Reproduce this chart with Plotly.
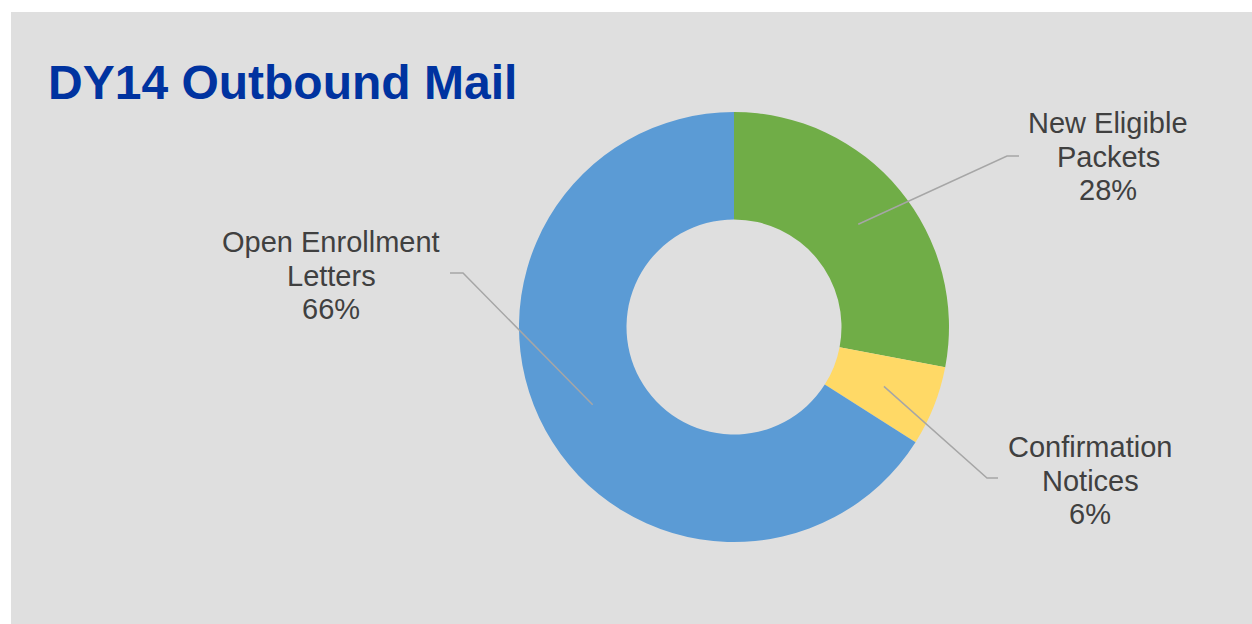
import math
import plotly.graph_objects as go

# Mail categories and their shares of DY14 outbound volume
categories = ["New Eligible Packets", "Confirmation Notices", "Open Enrollment Letters"]
values = [28, 6, 66]
label_lines = [["New Eligible", "Packets"], ["Confirmation", "Notices"], ["Open Enrollment", "Letters"]]
colors = ["#70AD47", "#FFD966", "#5B9BD5"]
title_text = "DY14 Outbound Mail"

W, H = 1252, 624
FONT = "Liberation Sans, Arial, sans-serif"


def px(x):
    return x / W


def py(y):
    return 1 - y / H


# Donut geometry in pixels
cx, cy, r_out, hole = 734, 327, 215, 0.5
r_mid = r_out * (1 + hole) / 2

fig = go.Figure(
    go.Pie(
        labels=categories,
        values=values,
        hole=hole,
        sort=False,
        direction="clockwise",
        rotation=0,
        marker=dict(colors=colors, line=dict(width=0)),
        textinfo="none",
        hoverinfo="label+percent",
        showlegend=False,
        domain=dict(x=[px(cx - r_out), px(cx + r_out)], y=[py(cy + r_out), py(cy - r_out)]),
    )
)

# Label placement: text centre, elbow of leader line, and end of leader line
label_layout = [
    dict(x=1108, y=123, elbow=(1007, 156), end=(1019, 156)),
    dict(x=1090, y=447, elbow=(987, 478), end=(998, 478)),
    dict(x=331, y=242, elbow=(463, 273), end=(450, 273)),
]
line_gap = 33.5

total = sum(values)
shapes = [
    # white frame strips along the top and left edges
    dict(type="rect", xref="paper", yref="paper", x0=0, x1=1, y0=py(12), y1=1,
         fillcolor="white", line=dict(width=0), layer="above"),
    dict(type="rect", xref="paper", yref="paper", x0=0, x1=px(11), y0=0, y1=1,
         fillcolor="white", line=dict(width=0), layer="above"),
]
annotations = [
    dict(text=f"<b>{title_text}</b>", x=px(46), y=py(83), xref="paper", yref="paper",
         xanchor="left", yanchor="middle", showarrow=False,
         font=dict(family=FONT, size=48, color="#0033A0")),
]

cum = 0
for val, lines, lay in zip(values, label_lines, label_layout):
    mid_angle = math.radians((cum + val / 2) / total * 360)
    cum += val
    ax = cx + r_mid * math.sin(mid_angle)
    ay = cy - r_mid * math.cos(mid_angle)
    ex, ey = lay["elbow"]
    tx, ty = lay["end"]
    path = f"M {px(ax)} {py(ay)} L {px(ex)} {py(ey)} L {px(tx)} {py(ty)}"
    shapes.append(dict(type="path", xref="paper", yref="paper", path=path,
                       line=dict(color="#A6A6A6", width=1.5), layer="above"))
    text_rows = lines + [f"{val / total * 100:.0f}%"]
    for i, row in enumerate(text_rows):
        annotations.append(dict(
            text=row, x=px(lay["x"]), y=py(lay["y"] + i * line_gap),
            xref="paper", yref="paper", xanchor="center", yanchor="middle",
            showarrow=False, font=dict(family=FONT, size=29, color="#404040"),
        ))

fig.update_layout(
    width=W,
    height=H,
    margin=dict(l=0, r=0, t=0, b=0),
    paper_bgcolor="#DFDFDF",
    plot_bgcolor="#DFDFDF",
    shapes=shapes,
    annotations=annotations,
)

fig.write_html("out.html")
